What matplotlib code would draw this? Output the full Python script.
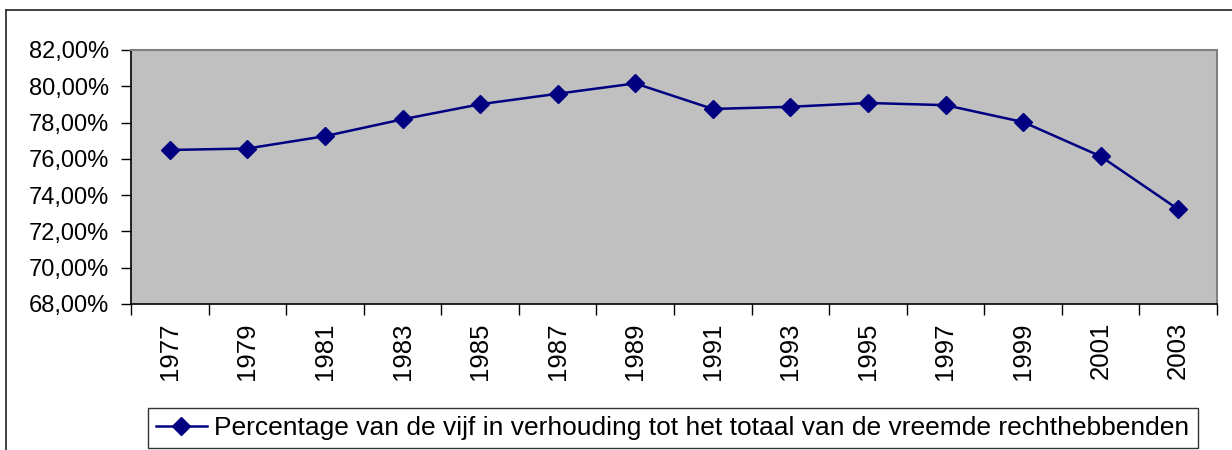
import matplotlib
matplotlib.use("Agg")
import matplotlib.pyplot as plt
from matplotlib.ticker import FixedLocator, FuncFormatter, NullFormatter
from matplotlib.lines import Line2D

plt.rcParams['font.family'] = ['Liberation Sans', 'DejaVu Sans']

years = ["1977", "1979", "1981", "1983", "1985", "1987", "1989",
         "1991", "1993", "1995", "1997", "1999", "2001", "2003"]
percentages = [76.49, 76.57, 77.25, 78.18, 79.01, 79.59, 80.16,
               78.75, 78.87, 79.08, 78.96, 78.03, 76.14, 73.22]
series_label = "Percentage van de vijf in verhouding tot het totaal van de vreemde rechthebbenden"
y_ticks = [68, 70, 72, 74, 76, 78, 80, 82]

fig = plt.figure(figsize=(12.32, 4.5), dpi=100)
ax = fig.add_axes([131 / 1232, 1 - 304 / 450, (1217 - 131) / 1232, (304 - 50) / 450])
ax.set_facecolor("#c0c0c0")

x = list(range(len(years)))
line, = ax.plot(x, percentages, color="#000080", linewidth=1.8,
                marker="D", markersize=9.5, markerfacecolor="#000080",
                markeredgecolor="#000080", label=series_label)

ax.set_xlim(-0.5, len(years) - 0.5)
ax.set_ylim(68, 82)

# category boundaries carry the tick marks, labels sit between them
ax.xaxis.set_major_locator(FixedLocator([i - 0.5 for i in range(len(years) + 1)]))
ax.xaxis.set_major_formatter(NullFormatter())
ax.xaxis.set_minor_locator(FixedLocator(x))
ax.set_xticklabels(years, minor=True, rotation=90, fontsize=18.5)
ax.tick_params(axis="x", which="major", direction="out", length=8, width=1, color="black")
ax.tick_params(axis="x", which="minor", length=0, pad=13)

ax.set_yticks(y_ticks)
ax.yaxis.set_major_formatter(FuncFormatter(lambda v, p: f"{v:.2f}%".replace(".", ",")))
ax.tick_params(axis="y", direction="out", length=7, width=1, color="black",
               labelsize=17, pad=9)

for side in ["left", "bottom"]:
    ax.spines[side].set_color("black")
    ax.spines[side].set_linewidth(1.2)
for side in ["top", "right"]:
    ax.spines[side].set_color("#808080")
    ax.spines[side].set_linewidth(1.5)

leg = fig.legend(handles=[line], loc="center", bbox_to_anchor=(673 / 1232, 1 - 428 / 450),
                 fontsize=19, frameon=True, fancybox=False, edgecolor="black",
                 handlelength=1.9, handletextpad=0.3, borderpad=0.3, borderaxespad=0)
leg.get_frame().set_linewidth(1.0)

# outer chart border (left and top edges visible)
fig.add_artist(Line2D([6 / 1232, 6 / 1232], [0, 1 - 10 / 450],
                      transform=fig.transFigure, color="#333333", linewidth=1.3))
fig.add_artist(Line2D([6 / 1232, 1], [1 - 10 / 450, 1 - 10 / 450],
                      transform=fig.transFigure, color="#333333", linewidth=1.3))

fig.savefig("out.png", dpi=100)
